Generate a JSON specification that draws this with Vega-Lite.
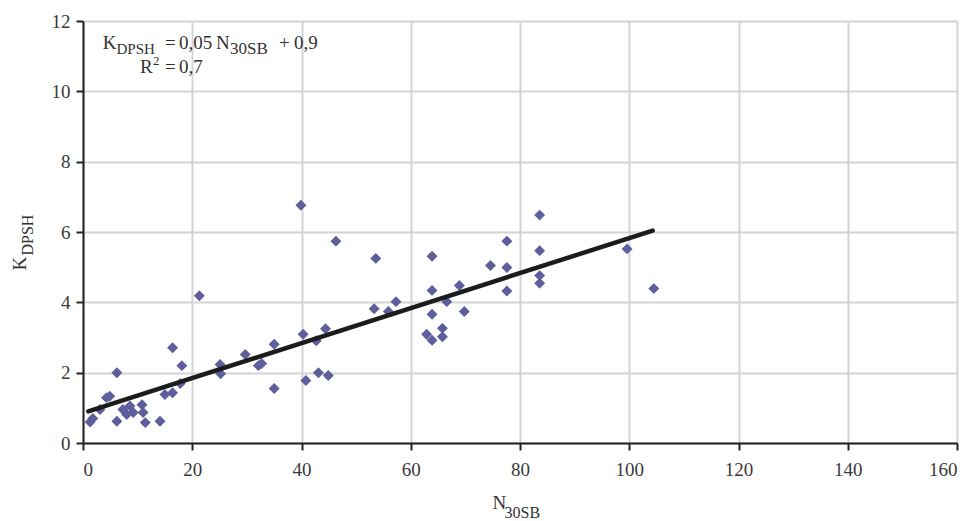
{
  "$schema": "https://vega.github.io/schema/vega-lite/v6.json",
  "width": 874,
  "height": 422,
  "autosize": {"type": "none"},
  "padding": {"left": 83, "top": 21, "right": 16, "bottom": 78},
  "background": "white",
  "config": {
    "view": {"stroke": null},
    "font": "Liberation Serif",
    "text": {"font": "Liberation Serif", "color": "#333333", "align": "left", "baseline": "alphabetic", "fontSize": 19},
    "axis": {
      "labelFont": "Liberation Serif",
      "titleFont": "Liberation Serif",
      "labelColor": "#3a3a3a",
      "titleColor": "#333333",
      "titleFontWeight": "normal",
      "labelFontSize": 19,
      "gridColor": "#d4d4d4",
      "gridWidth": 2,
      "domainColor": "#222222",
      "domainWidth": 2,
      "tickColor": "#222222",
      "tickWidth": 2,
      "tickSize": 7
    }
  },
  "datasets": {
    "pts": [
      {"n": 1.3, "k": 0.6}, {"n": 1.8, "k": 0.7}, {"n": 3.1, "k": 0.95}, {"n": 4.3, "k": 1.29},
      {"n": 4.9, "k": 1.33}, {"n": 6.2, "k": 0.62}, {"n": 6.2, "k": 2.0}, {"n": 7.3, "k": 0.95},
      {"n": 8.0, "k": 0.81}, {"n": 8.6, "k": 1.05}, {"n": 9.2, "k": 0.87}, {"n": 10.8, "k": 1.09},
      {"n": 11.0, "k": 0.87}, {"n": 11.4, "k": 0.58}, {"n": 14.1, "k": 0.62}, {"n": 15.0, "k": 1.38},
      {"n": 16.4, "k": 1.43}, {"n": 17.8, "k": 1.69}, {"n": 16.4, "k": 2.71}, {"n": 18.1, "k": 2.2},
      {"n": 21.3, "k": 4.19}, {"n": 25.1, "k": 2.23}, {"n": 25.2, "k": 1.97}, {"n": 29.7, "k": 2.52},
      {"n": 32.1, "k": 2.2}, {"n": 32.7, "k": 2.26}, {"n": 35.0, "k": 2.81}, {"n": 35.0, "k": 1.55},
      {"n": 39.9, "k": 6.76}, {"n": 40.3, "k": 3.09}, {"n": 40.8, "k": 1.78}, {"n": 42.7, "k": 2.91},
      {"n": 43.1, "k": 2.0}, {"n": 44.4, "k": 3.25}, {"n": 44.9, "k": 1.92}, {"n": 46.3, "k": 5.74},
      {"n": 53.3, "k": 3.82}, {"n": 53.6, "k": 5.25}, {"n": 55.9, "k": 3.74}, {"n": 57.3, "k": 4.02},
      {"n": 62.9, "k": 3.09}, {"n": 63.9, "k": 2.92}, {"n": 63.9, "k": 3.66}, {"n": 63.9, "k": 4.34},
      {"n": 63.9, "k": 5.31}, {"n": 65.8, "k": 3.26}, {"n": 65.8, "k": 3.02}, {"n": 66.6, "k": 4.02},
      {"n": 68.9, "k": 4.48}, {"n": 69.8, "k": 3.74}, {"n": 74.6, "k": 5.05}, {"n": 77.6, "k": 4.32},
      {"n": 77.6, "k": 4.99}, {"n": 77.6, "k": 5.74}, {"n": 83.6, "k": 6.48}, {"n": 83.6, "k": 5.47},
      {"n": 83.6, "k": 4.76}, {"n": 83.6, "k": 4.54}, {"n": 99.6, "k": 5.52}, {"n": 104.5, "k": 4.39}
    ],
    "fit": [{"n": 0.97, "k": 0.9}, {"n": 104.3, "k": 6.04}]
  },
  "layer": [
    {
      "layer": [
        {
          "data": {"name": "pts"},
          "mark": {"type": "point", "shape": "diamond", "filled": true, "size": 120, "color": "#5e5e9c", "opacity": 1},
          "encoding": {
            "x": {
              "field": "n", "type": "quantitative",
              "scale": {"domain": [0, 160], "nice": false},
              "axis": {
                "values": [0, 20, 40, 60, 80, 100, 120, 140, 160],
                "labelPadding": 10,
                "title": "N", "titleFontSize": 19, "titleAlign": "left", "titleBaseline": "alphabetic",
                "titleAngle": 0, "titleX": 409, "titleY": 65
              }
            },
            "y": {
              "field": "k", "type": "quantitative",
              "scale": {"domain": [0, 12], "nice": false},
              "axis": {
                "values": [0, 2, 4, 6, 8, 10, 12],
                "labelPadding": 6,
                "title": "K", "titleFontSize": 19, "titleAlign": "left", "titleBaseline": "alphabetic",
                "titleAngle": 270, "titleX": -58, "titleY": 249
              }
            }
          }
        },
        {
          "data": {"values": [{}]},
          "mark": {"type": "text", "text": "K"},
          "encoding": {"x": {"datum": 3.61, "type": "quantitative"}, "y": {"datum": 11.2, "type": "quantitative"}}
        },
        {
          "data": {"values": [{}]},
          "mark": {"type": "text", "text": "DPSH", "fontSize": 15},
          "encoding": {"x": {"datum": 6.13, "type": "quantitative"}, "y": {"datum": 11.07, "type": "quantitative"}}
        },
        {
          "data": {"values": [{}]},
          "mark": {"type": "text", "text": "="},
          "encoding": {"x": {"datum": 15.01, "type": "quantitative"}, "y": {"datum": 11.2, "type": "quantitative"}}
        },
        {
          "data": {"values": [{}]},
          "mark": {"type": "text", "text": "0,05"},
          "encoding": {"x": {"datum": 17.57, "type": "quantitative"}, "y": {"datum": 11.2, "type": "quantitative"}}
        },
        {
          "data": {"values": [{}]},
          "mark": {"type": "text", "text": "N"},
          "encoding": {"x": {"datum": 24.35, "type": "quantitative"}, "y": {"datum": 11.2, "type": "quantitative"}}
        },
        {
          "data": {"values": [{}]},
          "mark": {"type": "text", "text": "30SB", "fontSize": 17},
          "encoding": {"x": {"datum": 26.91, "type": "quantitative"}, "y": {"datum": 11.07, "type": "quantitative"}}
        },
        {
          "data": {"values": [{}]},
          "mark": {"type": "text", "text": "+"},
          "encoding": {"x": {"datum": 35.88, "type": "quantitative"}, "y": {"datum": 11.2, "type": "quantitative"}}
        },
        {
          "data": {"values": [{}]},
          "mark": {"type": "text", "text": "0,9"},
          "encoding": {"x": {"datum": 38.63, "type": "quantitative"}, "y": {"datum": 11.2, "type": "quantitative"}}
        },
        {
          "data": {"values": [{}]},
          "mark": {"type": "text", "text": "R"},
          "encoding": {"x": {"datum": 10.43, "type": "quantitative"}, "y": {"datum": 10.52, "type": "quantitative"}}
        },
        {
          "data": {"values": [{}]},
          "mark": {"type": "text", "text": "2", "fontSize": 13},
          "encoding": {"x": {"datum": 12.81, "type": "quantitative"}, "y": {"datum": 10.75, "type": "quantitative"}}
        },
        {
          "data": {"values": [{}]},
          "mark": {"type": "text", "text": "="},
          "encoding": {"x": {"datum": 15.01, "type": "quantitative"}, "y": {"datum": 10.52, "type": "quantitative"}}
        },
        {
          "data": {"values": [{}]},
          "mark": {"type": "text", "text": "0,7"},
          "encoding": {"x": {"datum": 17.57, "type": "quantitative"}, "y": {"datum": 10.52, "type": "quantitative"}}
        }
      ]
    },
    {
      "data": {"name": "fit"},
      "mark": {"type": "line", "color": "#1c1c1c", "strokeWidth": 4.5, "strokeCap": "round"},
      "encoding": {
        "x": {
          "field": "n", "type": "quantitative",
          "scale": {"domain": [0, 160], "nice": false},
          "axis": {
            "orient": "bottom", "labels": false, "ticks": false, "domain": false, "grid": false,
            "title": "30SB", "titleFontSize": 16, "titleAlign": "left", "titleBaseline": "alphabetic",
            "titleAngle": 0, "titleX": 421, "titleY": 74
          }
        },
        "y": {
          "field": "k", "type": "quantitative",
          "scale": {"domain": [0, 12], "nice": false},
          "axis": {
            "orient": "left", "labels": false, "ticks": false, "domain": false, "grid": false,
            "title": "DPSH", "titleFontSize": 16, "titleAlign": "left", "titleBaseline": "alphabetic",
            "titleAngle": 270, "titleX": -51, "titleY": 234
          }
        }
      }
    }
  ],
  "resolve": {"scale": {"x": "independent", "y": "independent"}}
}
